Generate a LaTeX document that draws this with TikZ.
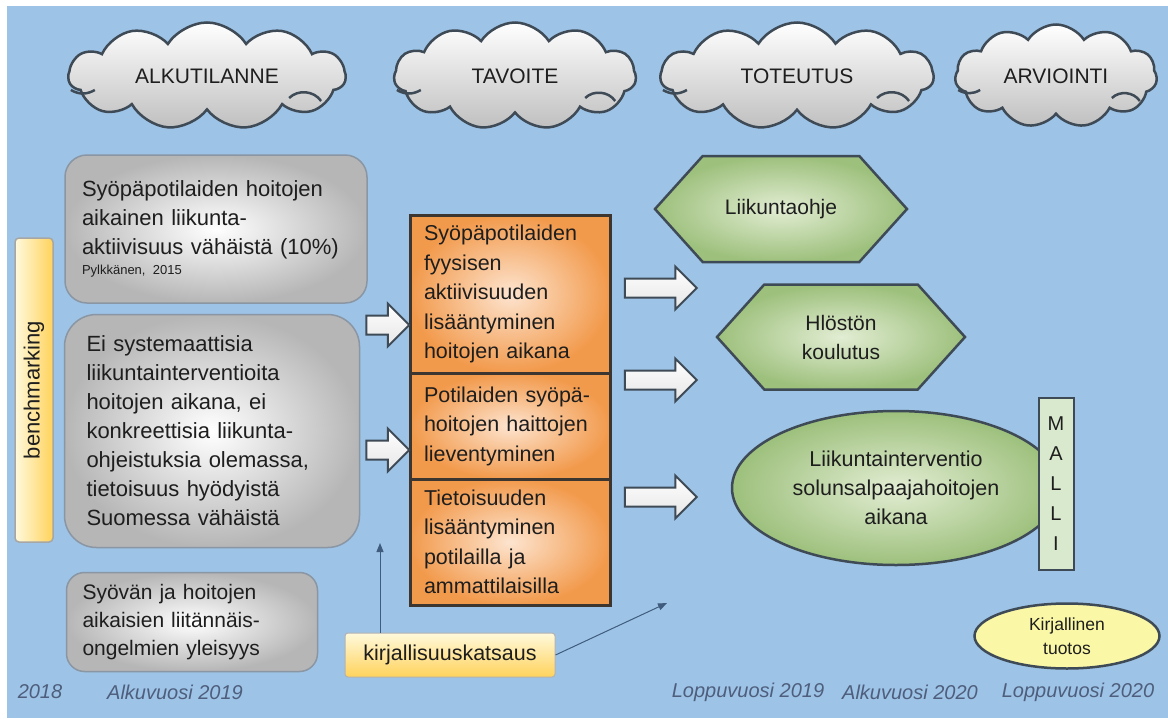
\documentclass[tikz,border=0pt]{standalone}
\usepackage{fontspec}
\setmainfont{Liberation Sans}
\usetikzlibrary{positioning, arrows.meta, calc, shapes.geometric, shapes.symbols, shapes.arrows}

\definecolor{skyblue}{HTML}{9DC3E6}
\definecolor{outline}{HTML}{3E4A56}
\definecolor{inktext}{HTML}{1E1E1E}
\definecolor{boxgray}{HTML}{B6B6B6}
\definecolor{boxedge}{HTML}{8A96A3}
\definecolor{goalorange}{HTML}{F29A4C}
\definecolor{goalpeach}{HTML}{FDE4CF}
\definecolor{goaledge}{HTML}{3C3530}
\definecolor{leafgreen}{HTML}{9DC07C}
\definecolor{palegreen}{HTML}{E2EDD3}
\definecolor{mintgreen}{HTML}{D9E9CD}
\definecolor{lemon}{HTML}{FAF7A6}
\definecolor{sandlight}{HTML}{FFF9DC}
\definecolor{sanddark}{HTML}{FFD35C}
\definecolor{yeartext}{HTML}{4E5E7C}
\definecolor{pointer}{HTML}{3F5C7E}

\begin{document}
\begin{tikzpicture}
    [
        x=1pt, y=-1pt,
        every node/.style={text=inktext},
        phase/.style={cloud, cloud puffs=11, cloud puff arc=115, aspect=2.6, draw=outline, line width=2.5pt, top color=white, bottom color=gray!50, inner sep=0pt, font=\fontsize{21}{25}\selectfont},
        curl/.style={draw=outline, line width=2.5pt},
        status/.style={draw=boxedge, line width=1.5pt, rounded corners=22pt, inner color=white, outer color=boxgray, align=left, font=\fontsize{22}{29}\selectfont},
        goal/.style={draw=goaledge, line width=3pt, outer sep=0pt, inner color=goalpeach, outer color=goalorange, minimum width=200pt, text width=172pt, align=left, inner sep=0pt, font=\fontsize{21.5}{29.5}\selectfont},
        measure/.style={signal, signal to=east and west, signal pointer angle=96, draw=outline, line width=2.5pt, inner color=palegreen, outer color=leafgreen, align=center, inner sep=0pt, font=\fontsize{21}{29}\selectfont},
        flow/.style={single arrow, single arrow head extend=12pt, inner xsep=0pt, inner ysep=8.5pt, draw=outline, line width=2pt, top color=white, bottom color=gray!20},
        year/.style={text=yeartext, font=\fontsize{20}{24}\selectfont\itshape},
        note/.style={draw=pointer, line width=1pt, -{Triangle[length=9pt, width=7pt]}}
    ]
        % =========================================================================
        % BACKGROUND
        % =========================================================================
        \useasboundingbox (0,0) rectangle (1168,718);
        \fill [white] (0,0) rectangle (1168,718);
        \fill [skyblue] (7,6) rectangle (1168,718);

        % =========================================================================
        % NODES
        % =========================================================================
        % --- Clouds ---
        \node [phase, minimum width=277pt, minimum height=107pt] (start) at (207,76) {ALKUTILANNE};
        \node [phase, minimum width=242pt, minimum height=107pt] (aim) at (515,76) {TAVOITE};
        \node [phase, minimum width=273pt, minimum height=107pt] (doing) at (797,76) {TOTEUTUS};
        \node [phase, minimum width=202pt, minimum height=103pt] (assess) at (1056,76) {ARVIOINTI};
        % --- Starting point ---
        \node [draw=gray!70, line width=1.5pt, rounded corners=4pt, left color=sandlight, right color=sanddark, minimum width=38pt, minimum height=304pt,
               label={[rotate=90, font=\fontsize{22}{26}\selectfont]center:benchmarking}] (bench) at (34,390) {};
        \node [status, minimum width=302pt, minimum height=148pt, text width=268pt] (low) at (216,229)
            {Syöpäpotilaiden hoitojen\\aikainen liikunta-\\aktiivisuus vähäistä (10\%)\\[-9pt]{\fontsize{13}{15}\selectfont Pylkkänen, 2015}};
        \node [status, rounded corners=32pt, minimum width=295pt, minimum height=233pt, text width=251pt] (none) at (212,431)
            {Ei systemaattisia\\liikuntainterventioita\\hoitojen aikana, ei\\konkreettisia liikunta-\\ohjeistuksia olemassa,\\tietoisuus hyödyistä\\Suomessa vähäistä};
        \node [status, rounded corners=18pt, font=\fontsize{21}{28}\selectfont, minimum width=251pt, minimum height=99pt, text width=219pt] (side) at (192,622)
            {Syövän ja hoitojen\\aikaisien liitännäis-\\ongelmien yleisyys};
        % --- Goals ---
        \node [goal, minimum height=158pt] (goal1) at (510,294) {Syöpäpotilaiden\\fyysisen\\aktiivisuuden\\lisääntyminen\\hoitojen aikana};
        \node [goal, minimum height=106pt, below=0pt of goal1] (goal2) {Potilaiden syöpä-\\hoitojen haittojen\\lieventyminen};
        \node [goal, minimum height=126pt, below=0pt of goal2] (goal3) {Tietoisuuden\\lisääntyminen\\potilailla ja\\ammattilaisilla};
        % --- Implementation ---
        \node [measure, minimum width=252pt, minimum height=106pt] (guide) at (781,209) {Liikuntaohje};
        \node [measure, minimum width=248pt, minimum height=105pt] (staff) at (841,337) {Hlöstön\\koulutus};
        \node [ellipse, draw=outline, line width=2.5pt, inner color=palegreen, outer color=leafgreen, minimum width=328pt, minimum height=154pt, align=center, font=\fontsize{21.5}{29}\selectfont] (program) at (896,488)
            {Liikuntainterventio\\solunsalpaajahoitojen\\aikana};
        \node [draw=outline, line width=2pt, fill=mintgreen, minimum width=35pt, minimum height=172pt, inner sep=0pt, align=center, font=\fontsize{20}{30}\selectfont] (model) at (1056,484) {M\\A\\L\\L\\I};
        \node [ellipse, draw=outline, line width=2.5pt, fill=lemon, minimum width=185pt, minimum height=65pt, inner sep=0pt, align=center, font=\fontsize{17.5}{24}\selectfont] (report) at (1067,636) {Kirjallinen\\tuotos};
        % --- Literature ---
        \node [draw=gray!60, line width=1pt, rounded corners=3pt, top color=sandlight, bottom color=sanddark, minimum width=210pt, minimum height=44pt, font=\fontsize{21.5}{26}\selectfont] (litreview) at (450,655) {kirjallisuuskatsaus};
        \coordinate (up) at (380,543);
        \coordinate (aside) at (667,603);
        % --- Block arrows ---
        \node [flow, minimum height=43pt] (in1) at (383,325) {};
        \node [flow, minimum height=43pt] (in2) at (383,450) {};
        \node [flow, minimum height=72pt] (out1) at (656,288) {};
        \node [flow, minimum height=72pt] (out2) at (656,380) {};
        \node [flow, minimum height=72pt] (out3) at (656,497) {};
        % --- Timeline ---
        \node [year] (y2018) at (40,692) {2018};
        \node [year] (early19) at (175,692) {Alkuvuosi 2019};
        \node [year] (late19) at (748,692) {Loppuvuosi 2019};
        \node [year] (early20) at (910,692) {Alkuvuosi 2020};
        \node [year] (late20) at (1078,692) {Loppuvuosi 2020};

        % =========================================================================
        % PATHS
        % =========================================================================
        % --- cloud curls ---
        \draw [curl] ($(start.west)+(4,14)$) to [bend right=30] ++(24,0);
        \draw [curl] ($(start.east)+(-58,22)$) to [bend left=50] ++(32,3);
        \draw [curl] ($(aim.west)+(4,14)$) to [bend right=30] ++(24,0);
        \draw [curl] ($(aim.east)+(-52,22)$) to [bend left=50] ++(30,3);
        \draw [curl] ($(doing.west)+(4,14)$) to [bend right=30] ++(24,0);
        \draw [curl] ($(doing.east)+(-58,22)$) to [bend left=50] ++(32,3);
        \draw [curl] ($(assess.west)+(4,14)$) to [bend right=30] ++(22,0);
        \draw [curl] ($(assess.east)+(-46,22)$) to [bend left=50] ++(28,3);
        % --- literature ---
        \draw [note] (litreview.north -| up) -- (up);
        \draw [note] (litreview.east) -- (aside);
    \end{tikzpicture}
\end{document}
